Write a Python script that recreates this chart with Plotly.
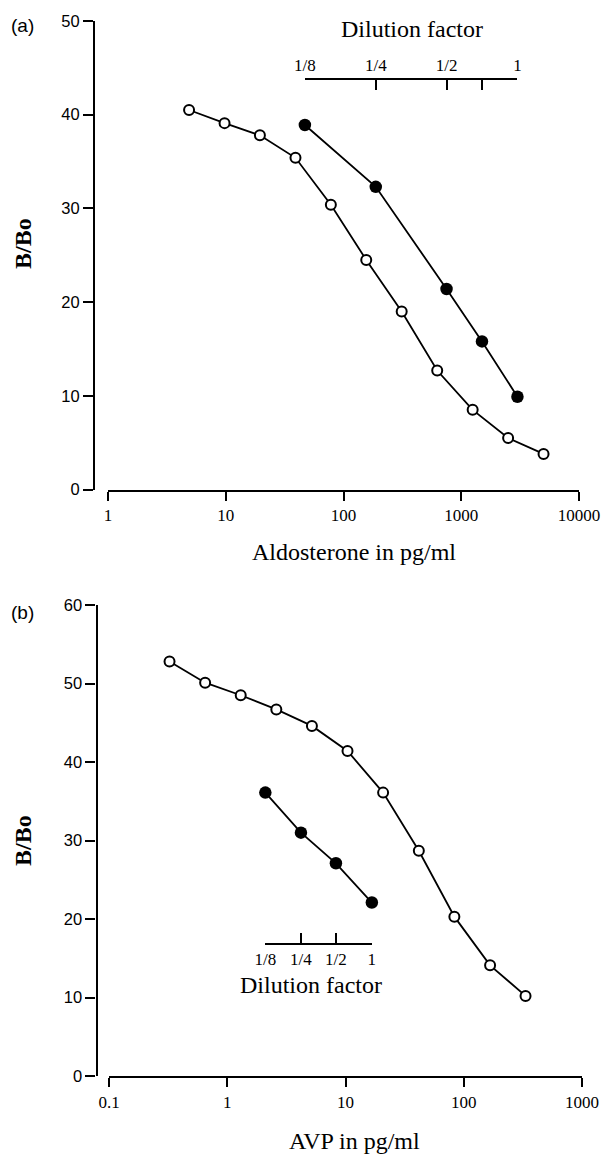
import math

import plotly.graph_objects as go

# ---- panel (a): aldosterone ----
aldo_std_x = [4.88, 9.77, 19.5, 39.1, 78.1, 156, 312, 625, 1250, 2500, 5000]
aldo_std_y = [40.5, 39.1, 37.8, 35.4, 30.4, 24.5, 19.0, 12.7, 8.5, 5.5, 3.8]
aldo_sample_x = [47, 188, 750, 1500, 3000]
aldo_sample_y = [38.9, 32.3, 21.4, 15.8, 9.9]
aldo_dil_labels = ['1/8', '1/4', '1/2', '', '1']
aldo_ticks = [1, 10, 100, 1000, 10000]

# ---- panel (b): AVP ----
avp_std_x = [0.325, 0.65, 1.3, 2.6, 5.2, 10.4, 20.8, 41.7, 83.3, 167, 333]
avp_std_y = [52.8, 50.1, 48.5, 46.7, 44.6, 41.4, 36.1, 28.7, 20.3, 14.1, 10.2]
avp_sample_x = [2.1, 4.2, 8.3, 16.7]
avp_sample_y = [36.1, 31.0, 27.1, 22.1]
avp_dil_labels = ['1/8', '1/4', '1/2', '1']
avp_ticks = [0.1, 1, 10, 100, 1000]

W, H = 606, 1156
SERIF = 'Liberation Serif'
SANS = 'Liberation Sans'

A_XDOM = [108 / W, 579 / W]
A_YDOM = [1 - 489.5 / H, 1 - 21 / H]
A_XRNG = [0, 4]
B_XDOM = [109 / W, 582 / W]
B_YDOM = [1 - 1076 / H, 1 - 605 / H]
B_XRNG = [-1, 3]


def to_paper(v, dom, rng):
    """Paper fraction of a value on a log axis"""
    return dom[0] + (math.log10(v) - rng[0]) / (rng[1] - rng[0]) * (dom[1] - dom[0])


def std_trace(x, y, xa, ya):
    return go.Scatter(
        x=x, y=y, xaxis=xa, yaxis=ya, mode='lines+markers',
        line=dict(color='black', width=1.8),
        marker=dict(symbol='circle', size=10, color='white', line=dict(color='black', width=2)),
        showlegend=False, hoverinfo='skip', cliponaxis=False
    )


def sample_trace(x, y, xa, ya):
    return go.Scatter(
        x=x, y=y, xaxis=xa, yaxis=ya, mode='lines+markers',
        line=dict(color='black', width=1.8),
        marker=dict(symbol='circle', size=12.5, color='black'),
        showlegend=False, hoverinfo='skip', cliponaxis=False
    )


def dummy_trace(x, y, xa, ya):
    # keeps the dilution axis alive
    return go.Scatter(
        x=x, y=y, xaxis=xa, yaxis=ya, mode='markers',
        marker=dict(opacity=0), showlegend=False, hoverinfo='skip'
    )


fig = go.Figure()
fig.add_trace(dummy_trace(aldo_sample_x, aldo_sample_y, 'x3', 'y'))
fig.add_trace(dummy_trace(avp_sample_x, avp_sample_y, 'x4', 'y2'))
fig.add_trace(std_trace(aldo_std_x, aldo_std_y, 'x', 'y'))
fig.add_trace(sample_trace(aldo_sample_x, aldo_sample_y, 'x', 'y'))
fig.add_trace(std_trace(avp_std_x, avp_std_y, 'x2', 'y2'))
fig.add_trace(sample_trace(avp_sample_x, avp_sample_y, 'x2', 'y2'))

tick_font = dict(family=SERIF, size=17, color='black')
ytick_font = dict(family=SANS, size=16.5, color='black')

main_x = dict(
    type='log', showline=True, linecolor='black', linewidth=2.2,
    ticks='outside', ticklen=9, tickwidth=2.2, tickcolor='black',
    showgrid=False, zeroline=False, tickfont=tick_font, fixedrange=True,
    automargin=False
)
main_y = dict(
    showline=True, linecolor='black', linewidth=2.2,
    ticks='outside', ticklen=10, tickwidth=2, tickcolor='black',
    showgrid=False, zeroline=False, tickfont=ytick_font, dtick=10,
    anchor='free', fixedrange=True, automargin=False
)
dil_x = dict(
    type='log', showline=True, linecolor='black', linewidth=1.8,
    ticks='inside', ticklen=10, tickwidth=2, tickcolor='black',
    showgrid=False, zeroline=False, tickfont=dict(family=SERIF, size=17, color='black'),
    anchor='free', fixedrange=True, automargin=False
)

a_dil_dom = [to_paper(aldo_sample_x[0], A_XDOM, A_XRNG), to_paper(aldo_sample_x[-1], A_XDOM, A_XRNG)]
b_dil_dom = [to_paper(avp_sample_x[0], B_XDOM, B_XRNG), to_paper(avp_sample_x[-1], B_XDOM, B_XRNG)]

fig.update_layout(
    width=W, height=H,
    margin=dict(l=0, r=0, t=0, b=0, autoexpand=False),
    paper_bgcolor='white', plot_bgcolor='rgba(0,0,0,0)',
    xaxis=dict(main_x, domain=A_XDOM, range=A_XRNG, anchor='y',
               tickvals=aldo_ticks, ticktext=[str(v) for v in aldo_ticks]),
    yaxis=dict(main_y, domain=A_YDOM, range=[0, 50], position=94 / W),
    xaxis2=dict(main_x, domain=B_XDOM, range=B_XRNG, anchor='y2',
                tickvals=avp_ticks, ticktext=[str(v) for v in avp_ticks]),
    yaxis2=dict(main_y, domain=B_YDOM, range=[0, 60], position=96.5 / W),
    xaxis3=dict(dil_x, domain=a_dil_dom,
                range=[math.log10(aldo_sample_x[0]), math.log10(aldo_sample_x[-1])],
                position=1 - 79 / H, side='top',
                tickvals=aldo_sample_x, ticktext=aldo_dil_labels),
    xaxis4=dict(dil_x, domain=b_dil_dom,
                range=[math.log10(avp_sample_x[0]), math.log10(avp_sample_x[-1])],
                position=1 - 943.5 / H, side='bottom',
                tickvals=avp_sample_x, ticktext=avp_dil_labels),
)

annotations = [
    dict(text='(a)', x=22 / W, y=1 - 25 / H, font=dict(family=SANS, size=19)),
    dict(text='(b)', x=22 / W, y=1 - 612 / H, font=dict(family=SANS, size=19)),
    dict(text='<b>B/Bo</b>', x=23 / W, y=1 - 244 / H, textangle=-90, font=dict(family=SERIF, size=24)),
    dict(text='<b>B/Bo</b>', x=23 / W, y=1 - 841 / H, textangle=-90, font=dict(family=SERIF, size=24)),
    dict(text='Dilution factor', x=411.5 / W, y=1 - 29 / H, font=dict(family=SERIF, size=24)),
    dict(text='Dilution factor', x=311 / W, y=1 - 985 / H, font=dict(family=SERIF, size=24)),
    dict(text='Aldosterone in pg/ml', x=353.5 / W, y=1 - 552 / H, font=dict(family=SERIF, size=24)),
    dict(text='AVP in pg/ml', x=354 / W, y=1 - 1141 / H, font=dict(family=SERIF, size=24)),
]
for a in annotations:
    a.update(xref='paper', yref='paper', showarrow=False, xanchor='center', yanchor='middle')
    a['font']['color'] = 'black'
fig.update_layout(annotations=annotations)

# drop the page's default body margin so the figure sits at the window corner
fig.write_html('out.html', config={'displayModeBar': False},
               post_script="document.body.style.margin='0';")
